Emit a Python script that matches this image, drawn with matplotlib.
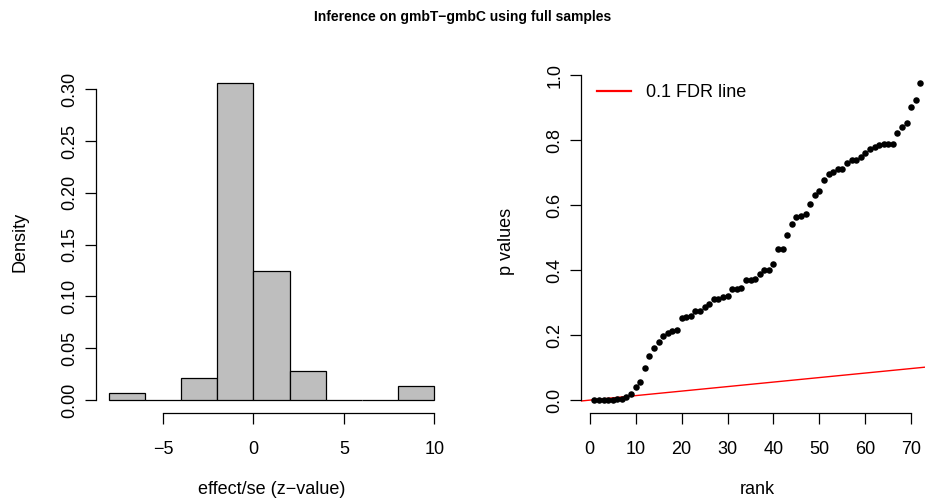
import numpy as np
import matplotlib
matplotlib.use("Agg")
import matplotlib.pyplot as plt
from matplotlib.lines import Line2D

plt.rcParams["font.family"] = ["Liberation Sans", "DejaVu Sans"]
plt.rcParams["axes.unicode_minus"] = True

# Histogram of z-values: bin edges and counts (n = 72)
bin_edges = [-8, -6, -4, -2, 0, 2, 4, 6, 8, 10]
bin_counts = [1, 0, 3, 44, 18, 4, 0, 0, 2]

# Sorted p-values
p_values = [0.0003, 0.0005, 0.0006, 0.0008, 0.0010, 0.0020, 0.0050, 0.0100, 0.0175,
            0.041, 0.056, 0.098, 0.136, 0.159, 0.178, 0.198, 0.205, 0.213, 0.217,
            0.254, 0.255, 0.259, 0.275, 0.275, 0.285, 0.297, 0.311, 0.312, 0.318,
            0.320, 0.341, 0.343, 0.344, 0.368, 0.369, 0.372, 0.388, 0.399, 0.400,
            0.420, 0.464, 0.464, 0.507, 0.541, 0.562, 0.565, 0.573, 0.602, 0.630,
            0.644, 0.677, 0.694, 0.703, 0.711, 0.711, 0.730, 0.738, 0.738, 0.749,
            0.761, 0.772, 0.780, 0.785, 0.788, 0.788, 0.788, 0.822, 0.840, 0.851,
            0.902, 0.923, 0.974]
fdr_level = 0.1

hist_yticks = [0.00, 0.05, 0.10, 0.15, 0.20, 0.25, 0.30]
hist_xticks = [-5, 0, 5, 10]
rank_xticks = [0, 10, 20, 30, 40, 50, 60, 70]
p_yticks = [0.0, 0.2, 0.4, 0.6, 0.8, 1.0]

FS = 13
W, H = 925, 501
fig = plt.figure(figsize=(W / 100, H / 100), dpi=100)

def px_axes(left, top, right, bottom):
    return fig.add_axes([left / W, 1 - bottom / H, (right - left) / W, (bottom - top) / H])

def r_style(ax, xb, yb):
    for s in ("top", "right"):
        ax.spines[s].set_visible(False)
    ax.spines["left"].set_bounds(*yb)
    ax.spines["bottom"].set_bounds(*xb)
    for s in ("left", "bottom"):
        ax.spines[s].set_linewidth(0.9)
    ax.tick_params(axis="both", length=7.9, width=0.9, labelsize=FS, direction="out")
    ax.tick_params(axis="x", pad=12.5)
    ax.tick_params(axis="y", pad=5)
    for lab in ax.get_yticklabels():
        lab.set_rotation(90)
        lab.set_va("center")

def pad4(lo, hi):
    r = hi - lo
    return lo - 0.04 * r, hi + 0.04 * r

# Left panel: histogram
ax1 = px_axes(95.7, 70.8, 447.3, 412.7)
n_total = sum(bin_counts)
widths = np.diff(bin_edges)
density = np.array(bin_counts) / (n_total * widths)
ax1.bar(bin_edges[:-1], density, width=widths, align="edge",
        color="#BEBEBE", edgecolor="black", linewidth=0.9)
ax1.set_xlim(*pad4(bin_edges[0], bin_edges[-1]))
ax1.set_ylim(*pad4(0, density.max()))
ax1.set_xticks(hist_xticks)
ax1.set_yticks(hist_yticks)
ax1.set_yticklabels([f"{v:.2f}" for v in hist_yticks])
r_style(ax1, (hist_xticks[0], hist_xticks[-1]), (hist_yticks[0], hist_yticks[-1]))
ax1.set_xlabel("effect/se (z\u2212value)", fontsize=FS)
ax1.set_ylabel("Density", fontsize=FS)
ax1.xaxis.label.set_va("center")
ax1.yaxis.label.set_va("center")
ax1.xaxis.set_label_coords(0.5, (412.7 - 490) / 341.9)
ax1.yaxis.set_label_coords((20.5 - 95.7) / 351.6, 0.5)

# Right panel: ranked p-values with FDR line
ax2 = px_axes(581.3, 70.8, 933.5, 412.7)
ranks = np.arange(1, len(p_values) + 1)
ax2.scatter(ranks, p_values, s=22, color="black", linewidths=0, zorder=3)
ax2.set_xlim(*pad4(ranks[0], ranks[-1]))
ax2.set_ylim(*pad4(min(p_values), max(p_values)))
ax2.axline((0, 0), slope=fdr_level / len(p_values), color="red", linewidth=1.0)
ax2.set_xticks(rank_xticks)
ax2.set_yticks(p_yticks)
ax2.set_yticklabels([f"{v:.1f}" for v in p_yticks])
r_style(ax2, (rank_xticks[0], rank_xticks[-1]), (p_yticks[0], p_yticks[-1]))
ax2.set_xlabel("rank", fontsize=FS)
ax2.set_ylabel("p values", fontsize=FS)
ax2.xaxis.label.set_va("center")
ax2.yaxis.label.set_va("center")
ax2.xaxis.set_label_coords(0.5, (412.7 - 490) / 341.9)
ax2.yaxis.set_label_coords((506.7 - 581.3) / 352.2, 0.5)
handle = Line2D([], [], color="red", linewidth=1.6)
ax2.legend([handle], [f"{fdr_level} FDR line"], loc="center left",
           bbox_to_anchor=((596.7 - 581.3) / 352.2, (412.7 - 92.7) / 341.9),
           frameon=False, borderpad=0, borderaxespad=0, handlelength=1.9,
           handletextpad=0.85, fontsize=FS)

fig.suptitle("Inference on gmbT\u2212gmbC using full samples", fontsize=10,
             fontweight="bold", y=1 - 17 / H, va="center")

fig.savefig("out.png", dpi=100)
